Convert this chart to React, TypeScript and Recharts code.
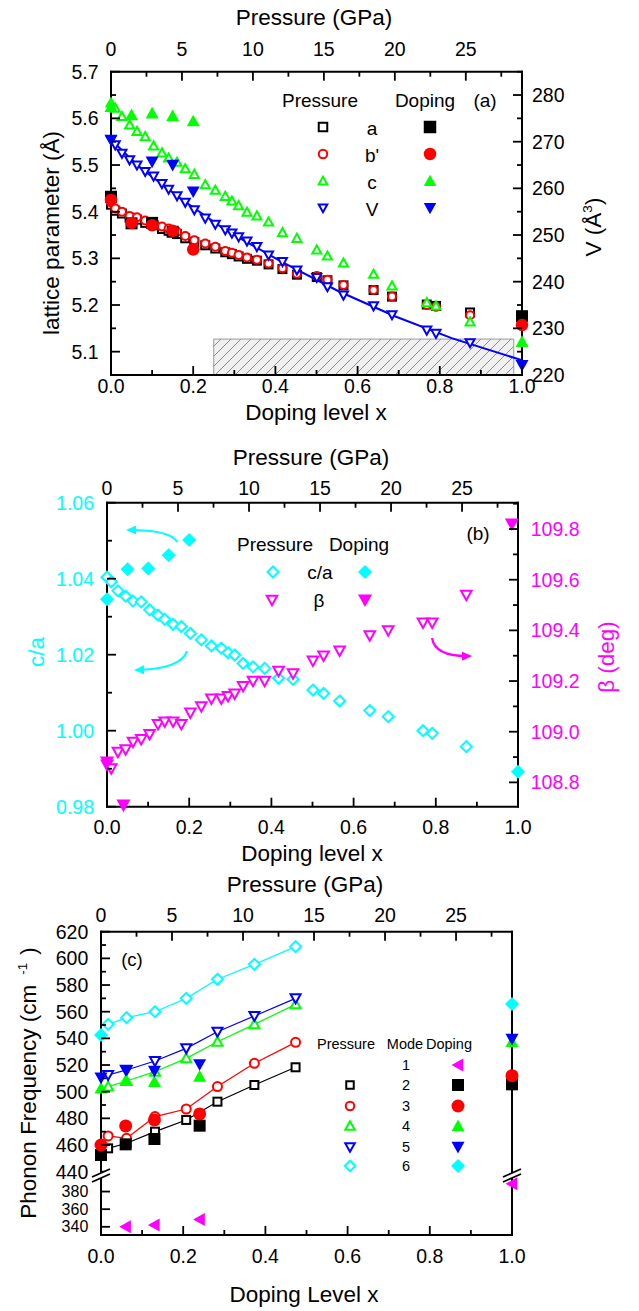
import React from 'react';
import { ScatterChart, Scatter, XAxis, YAxis, ReferenceArea } from 'recharts';

const FONT = '"Liberation Sans", Arial, Helvetica, sans-serif';
const BLACK = '#000000';
const RED = '#ff0000';
const GREEN = '#00ff00';
const BLUE = '#0000ff';
const CYAN = '#00ffff';
const MAGENTA = '#ff00ff';

// ---------- panel (a) / (b): pressure runs (GPa) ----------
const pressureGPa = [0, 0.3, 0.77, 1.31, 1.83, 2.41, 3.0, 3.59, 4.06, 4.65, 5.23, 5.87, 6.64, 7.35, 8.05, 8.52, 8.99, 9.58, 10.28, 11.1, 12.08, 13.1, 14.5, 15.25, 16.38, 18.5, 19.8, 22.25, 22.9, 25.3];
const aPressure = [5.415, 5.402, 5.396, 5.387, 5.383, 5.376, 5.371, 5.363, 5.359, 5.352, 5.343, 5.335, 5.328, 5.321, 5.313, 5.309, 5.304, 5.299, 5.295, 5.287, 5.277, 5.265, 5.26, 5.253, 5.242, 5.232, 5.218, 5.201, 5.198, 5.184];
const bPressure = [5.42, 5.407, 5.4, 5.391, 5.388, 5.381, 5.376, 5.368, 5.364, 5.357, 5.348, 5.339, 5.332, 5.325, 5.316, 5.312, 5.307, 5.302, 5.297, 5.289, 5.279, 5.267, 5.262, 5.254, 5.243, 5.232, 5.218, 5.2, 5.196, 5.178];
const cPressure = [5.633, 5.622, 5.604, 5.586, 5.572, 5.561, 5.541, 5.526, 5.515, 5.506, 5.492, 5.48, 5.458, 5.446, 5.433, 5.423, 5.413, 5.399, 5.391, 5.378, 5.355, 5.343, 5.318, 5.305, 5.29, 5.266, 5.241, 5.205, 5.198, 5.164];
const vPressure = [270.4, 269.3, 267.5, 266.1, 265.0, 263.6, 262.6, 261.0, 259.8, 258.4, 257.0, 255.4, 253.6, 252.3, 251.1, 250.4, 249.6, 248.7, 247.5, 245.7, 244.3, 242.5, 240.9, 238.9, 237.1, 234.8, 232.9, 229.6, 228.9, 226.9];
// fitted V(P) curve
const vFitGPa = [0, 2, 5, 8, 12, 16, 20, 24, 28.9];
const vFit = [270.4, 264.6, 257.6, 251.2, 244.3, 238.0, 232.6, 227.9, 223.2];
const caPressure = [1.0404, 1.0392, 1.0368, 1.0354, 1.0341, 1.0339, 1.0318, 1.0304, 1.0293, 1.028, 1.0274, 1.0256, 1.0239, 1.0223, 1.0217, 1.0205, 1.0199, 1.0177, 1.0168, 1.0164, 1.0138, 1.0135, 1.0107, 1.0098, 1.0078, 1.0053, 1.0037, 1.0, 0.9993, 0.9958];
const betaPressure = [108.87, 108.855, 108.92, 108.93, 108.96, 108.97, 108.99, 109.03, 109.04, 109.04, 109.03, 109.075, 109.1, 109.13, 109.13, 109.14, 109.15, 109.18, 109.2, 109.2, 109.24, 109.23, 109.28, 109.3, 109.32, 109.38, 109.4, 109.43, 109.43, 109.54];

// ---------- panel (a) / (b): doping ----------
const dopingX = [0, 0.05, 0.1, 0.15, 0.2, 1.0];
const aDoping = [5.432, 5.375, 5.376, 5.357, null, 5.176];
const bDoping = [5.425, 5.376, 5.371, 5.359, 5.319, 5.157];
const cDoping = [5.625, 5.607, 5.611, 5.605, 5.594, 5.121];
const vDoping = [270.4, null, 265.7, 265.0, 259.3, 222.1];
const caDoping = [1.0346, 1.0425, 1.0427, 1.0462, 1.0502, 0.9892];
const betaDopingX = [0, 0.04, 0.985];
const betaDoping = [108.88, 108.71, 109.82];

// ---------- panel (c): phonon modes ----------
const modePressureGPa = [0.5, 1.8, 3.8, 6.0, 8.2, 10.8, 13.7];
const mode2Pressure = [457.5, 461.3, 470.0, 478.8, 492.5, 505.0, 518.3];
const mode3Pressure = [466.8, 465.0, 481.3, 487.0, 503.8, 521.3, 537.0];
const mode4Pressure = [503.8, 508.0, 515.0, 525.0, 537.5, 550.5, 565.5];
const mode5Pressure = [512.5, 516.3, 523.0, 532.5, 545.0, 556.8, 570.0];
const mode6Pressure = [550.5, 555.5, 560.0, 570.0, 584.3, 595.5, 608.8];
const modeDopingX = [0, 0.06, 0.13, 0.24, 1.0];
const mode1Doping = [null, 340.0, 342.0, 348.3, 388.8];
const mode2Doping = [452.5, 460.5, 464.5, 474.5, 505.5];
const mode3Doping = [460.0, 474.3, 478.8, 483.3, 512.0];
const mode4Doping = [502.5, 508.3, 507.5, 511.3, 537.5];
const mode5Doping = [510.5, 516.3, 515.5, 520.5, 539.5];
const mode6Doping = [542.5, null, null, null, 565.8];

const pts = (xs: number[], ys: (number | null)[]) =>
  xs.map((x, i) => ({ x, y: ys[i] })).filter((d) => d.y !== null && d.y !== undefined);

const steps = (a: number, b: number, s: number) => {
  const out: number[] = [];
  for (let i = 0; a + i * s <= b + 1e-9; i++) out.push(Math.round((a + i * s) * 10000) / 10000);
  return out;
};

// marker shapes (size = outer extent in px)
function sym(kind: string, color: string, filled: boolean, size: number) {
  return (p: any) => {
    const { cx, cy } = p;
    if (!Number.isFinite(cx) || !Number.isFinite(cy)) return <g />;
    const h = (filled ? size : size - 2) / 2;
    const st: any = {
      fill: filled ? color : '#ffffff',
      stroke: filled ? 'none' : color,
      strokeWidth: filled ? 0 : 2,
    };
    let pointsStr = '';
    if (kind === 'square') return <rect x={cx - h} y={cy - h} width={2 * h} height={2 * h} {...st} />;
    if (kind === 'circle') return <circle cx={cx} cy={cy} r={h} {...st} />;
    if (kind === 'up') pointsStr = `${cx},${cy - h} ${cx - h},${cy + 0.8 * h} ${cx + h},${cy + 0.8 * h}`;
    if (kind === 'down') pointsStr = `${cx},${cy + h} ${cx - h},${cy - 0.8 * h} ${cx + h},${cy - 0.8 * h}`;
    if (kind === 'left') pointsStr = `${cx - h},${cy} ${cx + 0.8 * h},${cy - h} ${cx + 0.8 * h},${cy + h}`;
    if (kind === 'diamond') pointsStr = `${cx},${cy - h} ${cx + h},${cy} ${cx},${cy + h} ${cx - h},${cy}`;
    return <polygon points={pointsStr} {...st} />;
  };
}
const noDot = () => <g />;

// inward ticks, labels outside
type Side = 'left' | 'right' | 'top' | 'bottom';
const inTick = (side: Side, gap: number, major: number[], fmt: ((v: number) => string) | null, color = BLACK, fs = 19.5) => (p: any) => {
  const v = p.payload.value;
  const isMajor = major.some((m) => Math.abs(m - v) < 1e-6);
  const len = isMajor ? 9 : 5;
  let x1 = p.x, y1 = p.y, x2 = p.x, y2 = p.y;
  let anchor = 'middle';
  if (side === 'left') { x1 = p.x + gap; x2 = x1 + len; anchor = 'end'; }
  if (side === 'right') { x1 = p.x - gap; x2 = x1 - len; anchor = 'start'; }
  if (side === 'bottom') { y1 = p.y - gap; y2 = y1 - len; }
  if (side === 'top') { y1 = p.y + gap; y2 = y1 + len; }
  return (
    <g>
      <line x1={x1} y1={y1} x2={x2} y2={y2} stroke={BLACK} strokeWidth={1.8} />
      {isMajor && fmt && (
        <text x={p.x} y={p.y} textAnchor={anchor} dominantBaseline="central" fontSize={fs} fontFamily={FONT} fill={color}>
          {fmt(v)}
        </text>
      )}
    </g>
  );
};

const AXIS = { stroke: BLACK, strokeWidth: 2, strokeLinecap: 'square' };
const f1 = (v: number) => v.toFixed(1);
const f2 = (v: number) => v.toFixed(2);
const f0 = (v: number) => String(Math.round(v));

// axes are 1px thick so that they are drawn; the plot area is set by the margins
const xAx = (id: string, side: 'top' | 'bottom', domain: number[], ticks: number[], major: number[], gap: number, fmt: any, hide = false) => (
  <XAxis key={id} xAxisId={id} dataKey="x" type="number" orientation={side} domain={domain} ticks={ticks} interval={0}
    height={hide ? 0 : 1} tickSize={0} tickMargin={gap} tickLine={false} axisLine={AXIS} tick={inTick(side, gap, major, fmt)} hide={hide} />
);
const yAx = (id: string, side: 'left' | 'right', domain: number[], ticks: number[], major: number[], gap: number, fmt: any, color = BLACK, fs = 19.5) => (
  <YAxis key={id} yAxisId={id} dataKey="y" type="number" orientation={side} domain={domain} ticks={ticks} interval={0}
    width={1} tickSize={0} tickMargin={gap} tickLine={false} axisLine={AXIS} tick={inTick(side, gap, major, fmt, color, fs)} />
);

const Label = ({ x, y, children, size = 22.5, color = BLACK, rotate = false }: any) => (
  <div style={{ position: 'absolute', left: x, top: y, transform: `translate(-50%, -50%)${rotate ? ' rotate(-90deg)' : ''}`,
    fontFamily: FONT, fontSize: size, color, whiteSpace: 'nowrap', lineHeight: 1 }}>
    {children}
  </div>
);

const Glyph = ({ x, y, kind, color, filled, size }: any) => (
  <svg width={24} height={24} style={{ position: 'absolute', left: x - 12, top: y - 12, overflow: 'visible' }}>
    {sym(kind, color, filled, size)({ cx: 12, cy: 12 })}
  </svg>
);

function PanelA() {
  return (
    <div style={{ position: 'absolute', left: 0, top: 0 }}>
      <ScatterChart width={639} height={440} margin={{ top: 70.7, right: 116, bottom: 64, left: 110 }}>
        <defs>
          <pattern id="hatchA" width="10" height="10" patternUnits="userSpaceOnUse">
            <rect width="10" height="10" fill="#f0f0f0" />
            <path d="M-1,11 L11,-1" stroke="#8c8c8c" strokeWidth="1" />
          </pattern>
        </defs>
        {xAx('x', 'bottom', [0, 1], steps(0, 1, 0.1), steps(0, 1, 0.2), 11, f1)}
        {xAx('p', 'top', [0, 28.96], steps(0, 27.5, 2.5), steps(0, 25, 5), 23, f0)}
        {yAx('L', 'left', [5.05, 5.7], steps(5.1, 5.7, 0.05), steps(5.1, 5.7, 0.1), 12.5, f1)}
        {yAx('V', 'right', [220, 285], steps(220, 285, 5), steps(220, 280, 10), 10, f0)}
        <ReferenceArea xAxisId="x" yAxisId="L" x1={0.25} x2={0.98} y1={5.05} y2={5.127} fill="url(#hatchA)" fillOpacity={1} stroke="#999999" strokeWidth={1} />
        <Scatter xAxisId="p" yAxisId="L" data={pts(pressureGPa, aPressure)} shape={sym('square', BLACK, false, 10)} isAnimationActive={false} />
        <Scatter xAxisId="p" yAxisId="L" data={pts(pressureGPa, bPressure)} shape={sym('circle', RED, false, 10)} isAnimationActive={false} />
        <Scatter xAxisId="p" yAxisId="L" data={pts(pressureGPa, cPressure)} shape={sym('up', GREEN, false, 11)} isAnimationActive={false} />
        <Scatter xAxisId="p" yAxisId="V" data={pts(vFitGPa, vFit)} line={{ stroke: BLUE, strokeWidth: 2 }} shape={noDot} isAnimationActive={false} />
        <Scatter xAxisId="p" yAxisId="V" data={pts(pressureGPa, vPressure)} shape={sym('down', BLUE, false, 11)} isAnimationActive={false} />
        <Scatter xAxisId="x" yAxisId="L" data={pts(dopingX, aDoping)} shape={sym('square', BLACK, true, 12)} isAnimationActive={false} />
        <Scatter xAxisId="x" yAxisId="L" data={pts(dopingX, bDoping)} shape={sym('circle', RED, true, 12.5)} isAnimationActive={false} />
        <Scatter xAxisId="x" yAxisId="L" data={pts(dopingX, cDoping)} shape={sym('up', GREEN, true, 13)} isAnimationActive={false} />
        <Scatter xAxisId="x" yAxisId="V" data={pts(dopingX, vDoping)} shape={sym('down', BLUE, true, 13)} isAnimationActive={false} />
      </ScatterChart>
    </div>
  );
}

function PanelB() {
  return (
    <div style={{ position: 'absolute', left: 0, top: 420 }}>
      <ScatterChart width={639} height={460} margin={{ top: 81.7, right: 120, bottom: 72.3, left: 106 }}>
        {xAx('x', 'bottom', [0, 1], steps(0, 1, 0.1), steps(0, 1, 0.2), 20, f1)}
        {xAx('p', 'top', [0, 28.94], steps(0, 27.5, 2.5), steps(0, 25, 5), 14.5, f0)}
        {yAx('L', 'left', [0.98, 1.06], steps(0.98, 1.06, 0.01), steps(0.98, 1.06, 0.02), 13, f2, CYAN)}
        {yAx('R', 'right', [108.704, 109.904], steps(108.8, 109.9, 0.1), steps(108.8, 109.8, 0.2), 12.7, f1, MAGENTA)}
        <Scatter xAxisId="p" yAxisId="L" data={pts(pressureGPa, caPressure)} shape={sym('diamond', CYAN, false, 13)} isAnimationActive={false} />
        <Scatter xAxisId="p" yAxisId="R" data={pts(pressureGPa, betaPressure)} shape={sym('down', MAGENTA, false, 12.5)} isAnimationActive={false} />
        <Scatter xAxisId="x" yAxisId="L" data={pts(dopingX, caDoping)} shape={sym('diamond', CYAN, true, 14)} isAnimationActive={false} />
        <Scatter xAxisId="x" yAxisId="R" data={pts(betaDopingX, betaDoping)} shape={sym('down', MAGENTA, true, 14)} isAnimationActive={false} />
      </ScatterChart>
    </div>
  );
}

const modeRows = [
  { id: 2, kind: 'square', color: BLACK, p: mode2Pressure, d: mode2Doping, so: 10, sf: 12 },
  { id: 3, kind: 'circle', color: RED, p: mode3Pressure, d: mode3Doping, so: 11, sf: 13 },
  { id: 4, kind: 'up', color: GREEN, p: mode4Pressure, d: mode4Doping, so: 12, sf: 13 },
  { id: 5, kind: 'down', color: BLUE, p: mode5Pressure, d: mode5Doping, so: 12, sf: 13 },
  { id: 6, kind: 'diamond', color: CYAN, p: mode6Pressure, d: mode6Doping, so: 13, sf: 14 },
];

function PanelC() {
  return (
    <>
      <div style={{ position: 'absolute', left: 0, top: 860 }}>
        <ScatterChart width={639} height={340} margin={{ top: 70.7, right: 126, bottom: 25, left: 100 }}>
          {xAx('p', 'top', [0, 28.94], steps(0, 27.5, 2.5), steps(0, 25, 5), 16.7, f0)}
          {xAx('x', 'bottom', [0, 1], [0, 1], [], 10, null, true)}
          {yAx('L', 'left', [437.5, 620], steps(440, 620, 10), steps(440, 620, 20), 12.7, f0)}
          {yAx('R', 'right', [437.5, 620], steps(440, 620, 10), steps(440, 620, 20), 10, null)}
          {modeRows.map((m) => (
            <Scatter key={'p' + m.id} xAxisId="p" yAxisId="L" data={pts(modePressureGPa, m.p)} line={{ stroke: m.color, strokeWidth: 1.2 }}
              shape={sym(m.kind, m.color, false, m.so)} isAnimationActive={false} />
          ))}
          {modeRows.map((m) => (
            <Scatter key={'d' + m.id} xAxisId="x" yAxisId="L" data={pts(modeDopingX, m.d)} shape={sym(m.kind, m.color, true, m.sf)} isAnimationActive={false} />
          ))}
        </ScatterChart>
      </div>
      <div style={{ position: 'absolute', left: 0, top: 1160 }}>
        <ScatterChart width={639} height={151} margin={{ top: 15, right: 126, bottom: 75, left: 100 }}>
          {xAx('x', 'bottom', [0, 1], steps(0, 1, 0.1), steps(0, 1, 0.2), 21, f1)}
          {yAx('L', 'left', [330.7, 398.8], [340, 360, 380], [340, 360, 380], 12.7, f0, BLACK, 16)}
          {yAx('R', 'right', [330.7, 398.8], [340, 360, 380], [340, 360, 380], 10, null)}
          <Scatter xAxisId="x" yAxisId="L" data={pts(modeDopingX, mode1Doping)} shape={sym('left', MAGENTA, true, 13)} isAnimationActive={false} />
        </ScatterChart>
      </div>
    </>
  );
}

function Overlay() {
  const brk = (x: number, y: number) => (
    <g>
      <polygon points={`${x - 9},${y + 2} ${x + 9},${y - 6} ${x + 9},${y - 1} ${x - 9},${y + 7}`} fill="#ffffff" />
      <line x1={x - 9} y1={y + 2} x2={x + 9} y2={y - 6} stroke={BLACK} strokeWidth={1.8} />
      <line x1={x - 9} y1={y + 7} x2={x + 9} y2={y - 1} stroke={BLACK} strokeWidth={1.8} />
    </g>
  );
  return (
    <svg width={639} height={1311} style={{ position: 'absolute', left: 0, top: 0, pointerEvents: 'none' }}>
      <defs>
        <marker id="headC" markerWidth="10" markerHeight="9" refX="8" refY="4.5" orient="auto" markerUnits="userSpaceOnUse">
          <path d="M0,0 L10,4.5 L0,9 z" fill={CYAN} />
        </marker>
        <marker id="headM" markerWidth="10" markerHeight="9" refX="8" refY="4.5" orient="auto" markerUnits="userSpaceOnUse">
          <path d="M0,0 L10,4.5 L0,9 z" fill={MAGENTA} />
        </marker>
      </defs>
      <path d="M177,542 Q171,530 128,530" fill="none" stroke={CYAN} strokeWidth={2.2} markerEnd="url(#headC)" />
      <path d="M187,651 Q181,669 136,670" fill="none" stroke={CYAN} strokeWidth={2.2} markerEnd="url(#headC)" />
      <path d="M432,638 Q435,657 470,656" fill="none" stroke={MAGENTA} strokeWidth={2.2} markerEnd="url(#headM)" />
      {brk(101, 1175)}
      {brk(512, 1175)}
    </svg>
  );
}

export default function App() {
  return (
    <div style={{ position: 'absolute', left: 0, top: 0, width: 639, height: 1311, background: '#ffffff', overflow: 'hidden', fontFamily: FONT }}>
      <PanelA />
      <PanelB />
      <PanelC />
      <Overlay />

      {/* panel (a) titles + legend */}
      <Label x={314} y={18}>Pressure (GPa)</Label>
      <Label x={316} y={413}>Doping level x</Label>
      <Label x={52} y={233} rotate>lattice parameter (Å)</Label>
      <Label x={593} y={227} rotate>V (Å<sup style={{ fontSize: '0.6em' }}>3</sup>)</Label>
      <Label x={320} y={100} size={19}>Pressure</Label>
      <Label x={425} y={100} size={19}>Doping</Label>
      <Label x={485} y={100} size={19}>(a)</Label>
      {[
        { t: 'a', kind: 'square', color: BLACK, y: 127 },
        { t: "b'", kind: 'circle', color: RED, y: 154 },
        { t: 'c', kind: 'up', color: GREEN, y: 181 },
        { t: 'V', kind: 'down', color: BLUE, y: 208 },
      ].map((r) => (
        <React.Fragment key={r.t}>
          <Glyph x={323} y={r.y} kind={r.kind} color={r.color} filled={false} size={10.5} />
          <Label x={372} y={r.y + 1} size={19}>{r.t}</Label>
          <Glyph x={430} y={r.y} kind={r.kind} color={r.color} filled size={12.5} />
        </React.Fragment>
      ))}

      {/* panel (b) */}
      <Label x={311} y={458}>Pressure (GPa)</Label>
      <Label x={312} y={854}>Doping level x</Label>
      <Label x={37} y={652} rotate color={CYAN}>c/a</Label>
      <Label x={607} y={657} rotate color={MAGENTA}>β (deg)</Label>
      <Label x={275} y={544} size={19}>Pressure</Label>
      <Label x={359} y={544} size={19}>Doping</Label>
      <Label x={478} y={533} size={19}>(b)</Label>
      <Glyph x={273} y={572} kind="diamond" color={CYAN} filled={false} size={13} />
      <Label x={320} y={572} size={19}>c/a</Label>
      <Glyph x={365} y={572} kind="diamond" color={CYAN} filled size={14} />
      <Glyph x={272} y={600} kind="down" color={MAGENTA} filled={false} size={12.5} />
      <Label x={319} y={600} size={19}>β</Label>
      <Glyph x={365} y={600} kind="down" color={MAGENTA} filled size={14} />

      {/* panel (c) */}
      <Label x={305} y={885}>Pressure (GPa)</Label>
      <Label x={304} y={1295}>Doping Level x</Label>
      <Label x={28} y={1083} rotate>Phonon Frequency (cm<sup style={{ fontSize: '0.6em', marginLeft: 10, marginRight: 8 }}>-1</sup>)</Label>
      <Label x={132} y={960} size={18.5}>(c)</Label>
      <Label x={346} y={1044} size={14.5}>Pressure</Label>
      <Label x={405} y={1044} size={14.5}>Mode</Label>
      <Label x={449} y={1044} size={14.5}>Doping</Label>
      <Label x={406} y={1065} size={14.5}>1</Label>
      <Glyph x={458} y={1065} kind="left" color={MAGENTA} filled size={13} />
      {modeRows.map((m, i) => {
        const y = [1085, 1106, 1126, 1147, 1166][i];
        return (
          <React.Fragment key={m.id}>
            <Glyph x={350} y={y} kind={m.kind} color={m.color} filled={false} size={m.so - 0.5} />
            <Label x={406} y={y} size={14.5}>{m.id}</Label>
            <Glyph x={458} y={y} kind={m.kind} color={m.color} filled size={m.sf} />
          </React.Fragment>
        );
      })}
    </div>
  );
}
